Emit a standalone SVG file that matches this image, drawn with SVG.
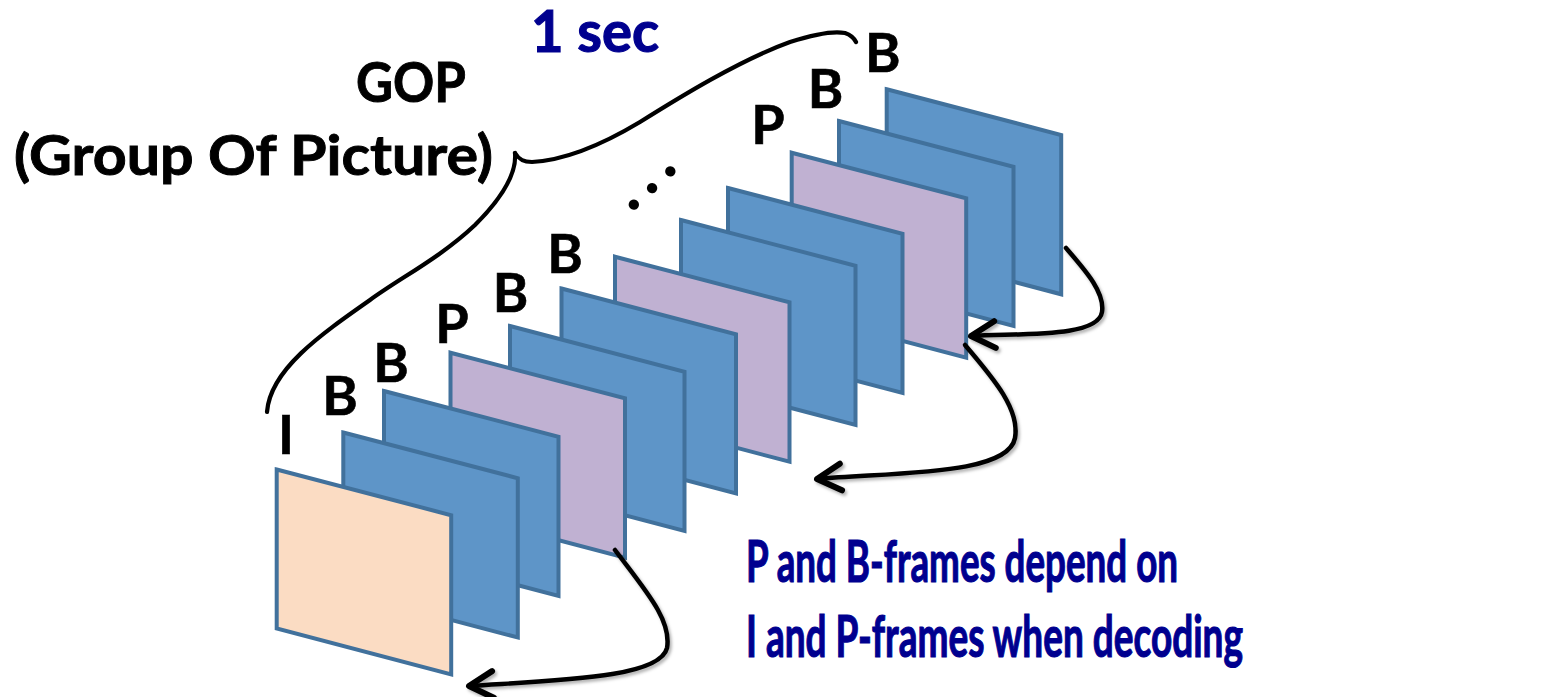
<svg xmlns="http://www.w3.org/2000/svg" width="1563" height="697" viewBox="0 0 1563 697">
  <style>
    .frame { stroke: #41719C; stroke-width: 4; stroke-linejoin: miter; }
    .fI { fill: #FBDCC3; }
    .fB { fill: #5E95C8; }
    .fP { fill: #C0B1D2; }
    .lbl { font-family: Lato, "Open Sans", sans-serif; font-weight: bold; font-size: 54px; fill: #000000; stroke: #000000; stroke-width: 0.6; text-anchor: middle; }
    .txt { font-family: Lato, "Open Sans", sans-serif; font-weight: bold; font-size: 55px; fill: #000000; stroke: #000000; stroke-width: 0.9; }
    .navy { font-family: Lato, "Open Sans", sans-serif; font-weight: bold; font-size: 58px; fill: #00008F; stroke: #00008F; stroke-width: 1.2; }
    .conn { fill: none; stroke: #000000; stroke-width: 4.5; stroke-linecap: round; }
    .brace { fill: none; stroke: #000000; stroke-width: 4.2; stroke-linecap: round; stroke-linejoin: round; }
  </style>
  <defs>
    <!-- one picture frame seen in perspective -->
    <path id="pane" d="M0 0 L174.5 45.7 L174.5 205 L0 159 Z"/>
    <marker id="head" markerUnits="userSpaceOnUse" orient="auto" refX="0" refY="0" markerWidth="40" markerHeight="40" viewBox="-25 -15 30 30" overflow="visible">
      <path d="M-18 -10 L0 0 L-18 10" fill="none" stroke="#000000" stroke-width="4.5" stroke-linecap="round" stroke-linejoin="round"/>
    </marker>
    <filter id="shadow" x="-10%" y="-10%" width="130%" height="130%">
      <feDropShadow dx="2" dy="2.5" stdDeviation="1.5" flood-color="#000000" flood-opacity="0.3"/>
    </filter>
  </defs>

  <!-- frames, drawn back to front -->
  <g id="frame12"><use href="#pane" class="frame fB" x="886.7" y="89.3"/></g>
  <g id="frame11"><use href="#pane" class="frame fB" x="839" y="121"/></g>
  <g id="frame10"><use href="#pane" class="frame fP" x="791.7" y="152.7"/></g>
  <g id="frame9"><use href="#pane" class="frame fB" x="728" y="188"/></g>
  <g id="frame8"><use href="#pane" class="frame fB" x="681" y="220"/></g>
  <g id="frame7"><use href="#pane" class="frame fP" x="615" y="256.7"/></g>
  <g id="frame6"><use href="#pane" class="frame fB" x="561.5" y="288.5"/></g>
  <g id="frame5"><use href="#pane" class="frame fB" x="510" y="326"/></g>
  <g id="frame4"><use href="#pane" class="frame fP" x="450.5" y="352.7"/></g>
  <g id="frame3"><use href="#pane" class="frame fB" x="384" y="391"/></g>
  <g id="frame2"><use href="#pane" class="frame fB" x="343.3" y="432.5"/></g>
  <g id="frame1"><use href="#pane" class="frame fI" x="276.7" y="469.5"/></g>

  <!-- frame type letters -->
  <g id="labels">
    <text class="lbl" x="286" y="454">I</text>
    <text class="lbl" x="340" y="415">B</text>
    <text class="lbl" x="391" y="381.7">B</text>
    <text class="lbl" x="452" y="343.3">P</text>
    <text class="lbl" x="510.5" y="311.7">B</text>
    <text class="lbl" x="565" y="273.3">B</text>
    <text class="lbl" x="768" y="144">P</text>
    <text class="lbl" x="825.5" y="108.3">B</text>
    <text class="lbl" x="882.7" y="71.7">B</text>
    <!-- the sequence continues: a slanted ellipsis -->
    <text transform="translate(631,213.5) rotate(-42.4)" font-family="Lato, 'Open Sans', sans-serif" font-weight="bold" font-size="68" letter-spacing="8.5" fill="#000000">...</text>
  </g>

  <!-- GOP brace and captions -->
  <g id="gop">
    <path class="brace" d="M515,153 C519,160 524,162 532,162 C570,160 610,140 640,122 C680,97 740,60 790,42 C815,34 835,31 845,33 C851,35 854,38 856,42"/>
    <path class="brace" d="M515,153 C517,175 500,200 475,225 C440,258 400,278 370,300 C320,335 270,370 267,412"/>
    <text class="txt" x="356" y="101.5" textLength="110" lengthAdjust="spacingAndGlyphs">GOP</text>
    <text class="txt" x="14" y="175" textLength="479" lengthAdjust="spacingAndGlyphs">(Group Of Picture)</text>
    <text class="navy" x="531" y="52" textLength="128" lengthAdjust="spacingAndGlyphs">1 sec</text>
  </g>

  <!-- reference arrows -->
  <g id="connectors" filter="url(#shadow)">
    <path class="conn" marker-end="url(#head)" d="M615,550 C645,590 672,620 667,648 C660,678 560,680 469,686"/>
    <path class="conn" marker-end="url(#head)" d="M965,345 C995,380 1020,410 1015,438 C1008,475 900,472 817,479"/>
    <path class="conn" marker-end="url(#head)" d="M1066,248 C1085,270 1105,292 1102,312 C1098,338 1020,333 971,336"/>
  </g>

  <g id="note">
    <text class="navy" x="746" y="582" textLength="432" lengthAdjust="spacingAndGlyphs">P and B-frames depend on</text>
    <text class="navy" x="746" y="657" textLength="497" lengthAdjust="spacingAndGlyphs">I and P-frames when decoding</text>
  </g>
</svg>
